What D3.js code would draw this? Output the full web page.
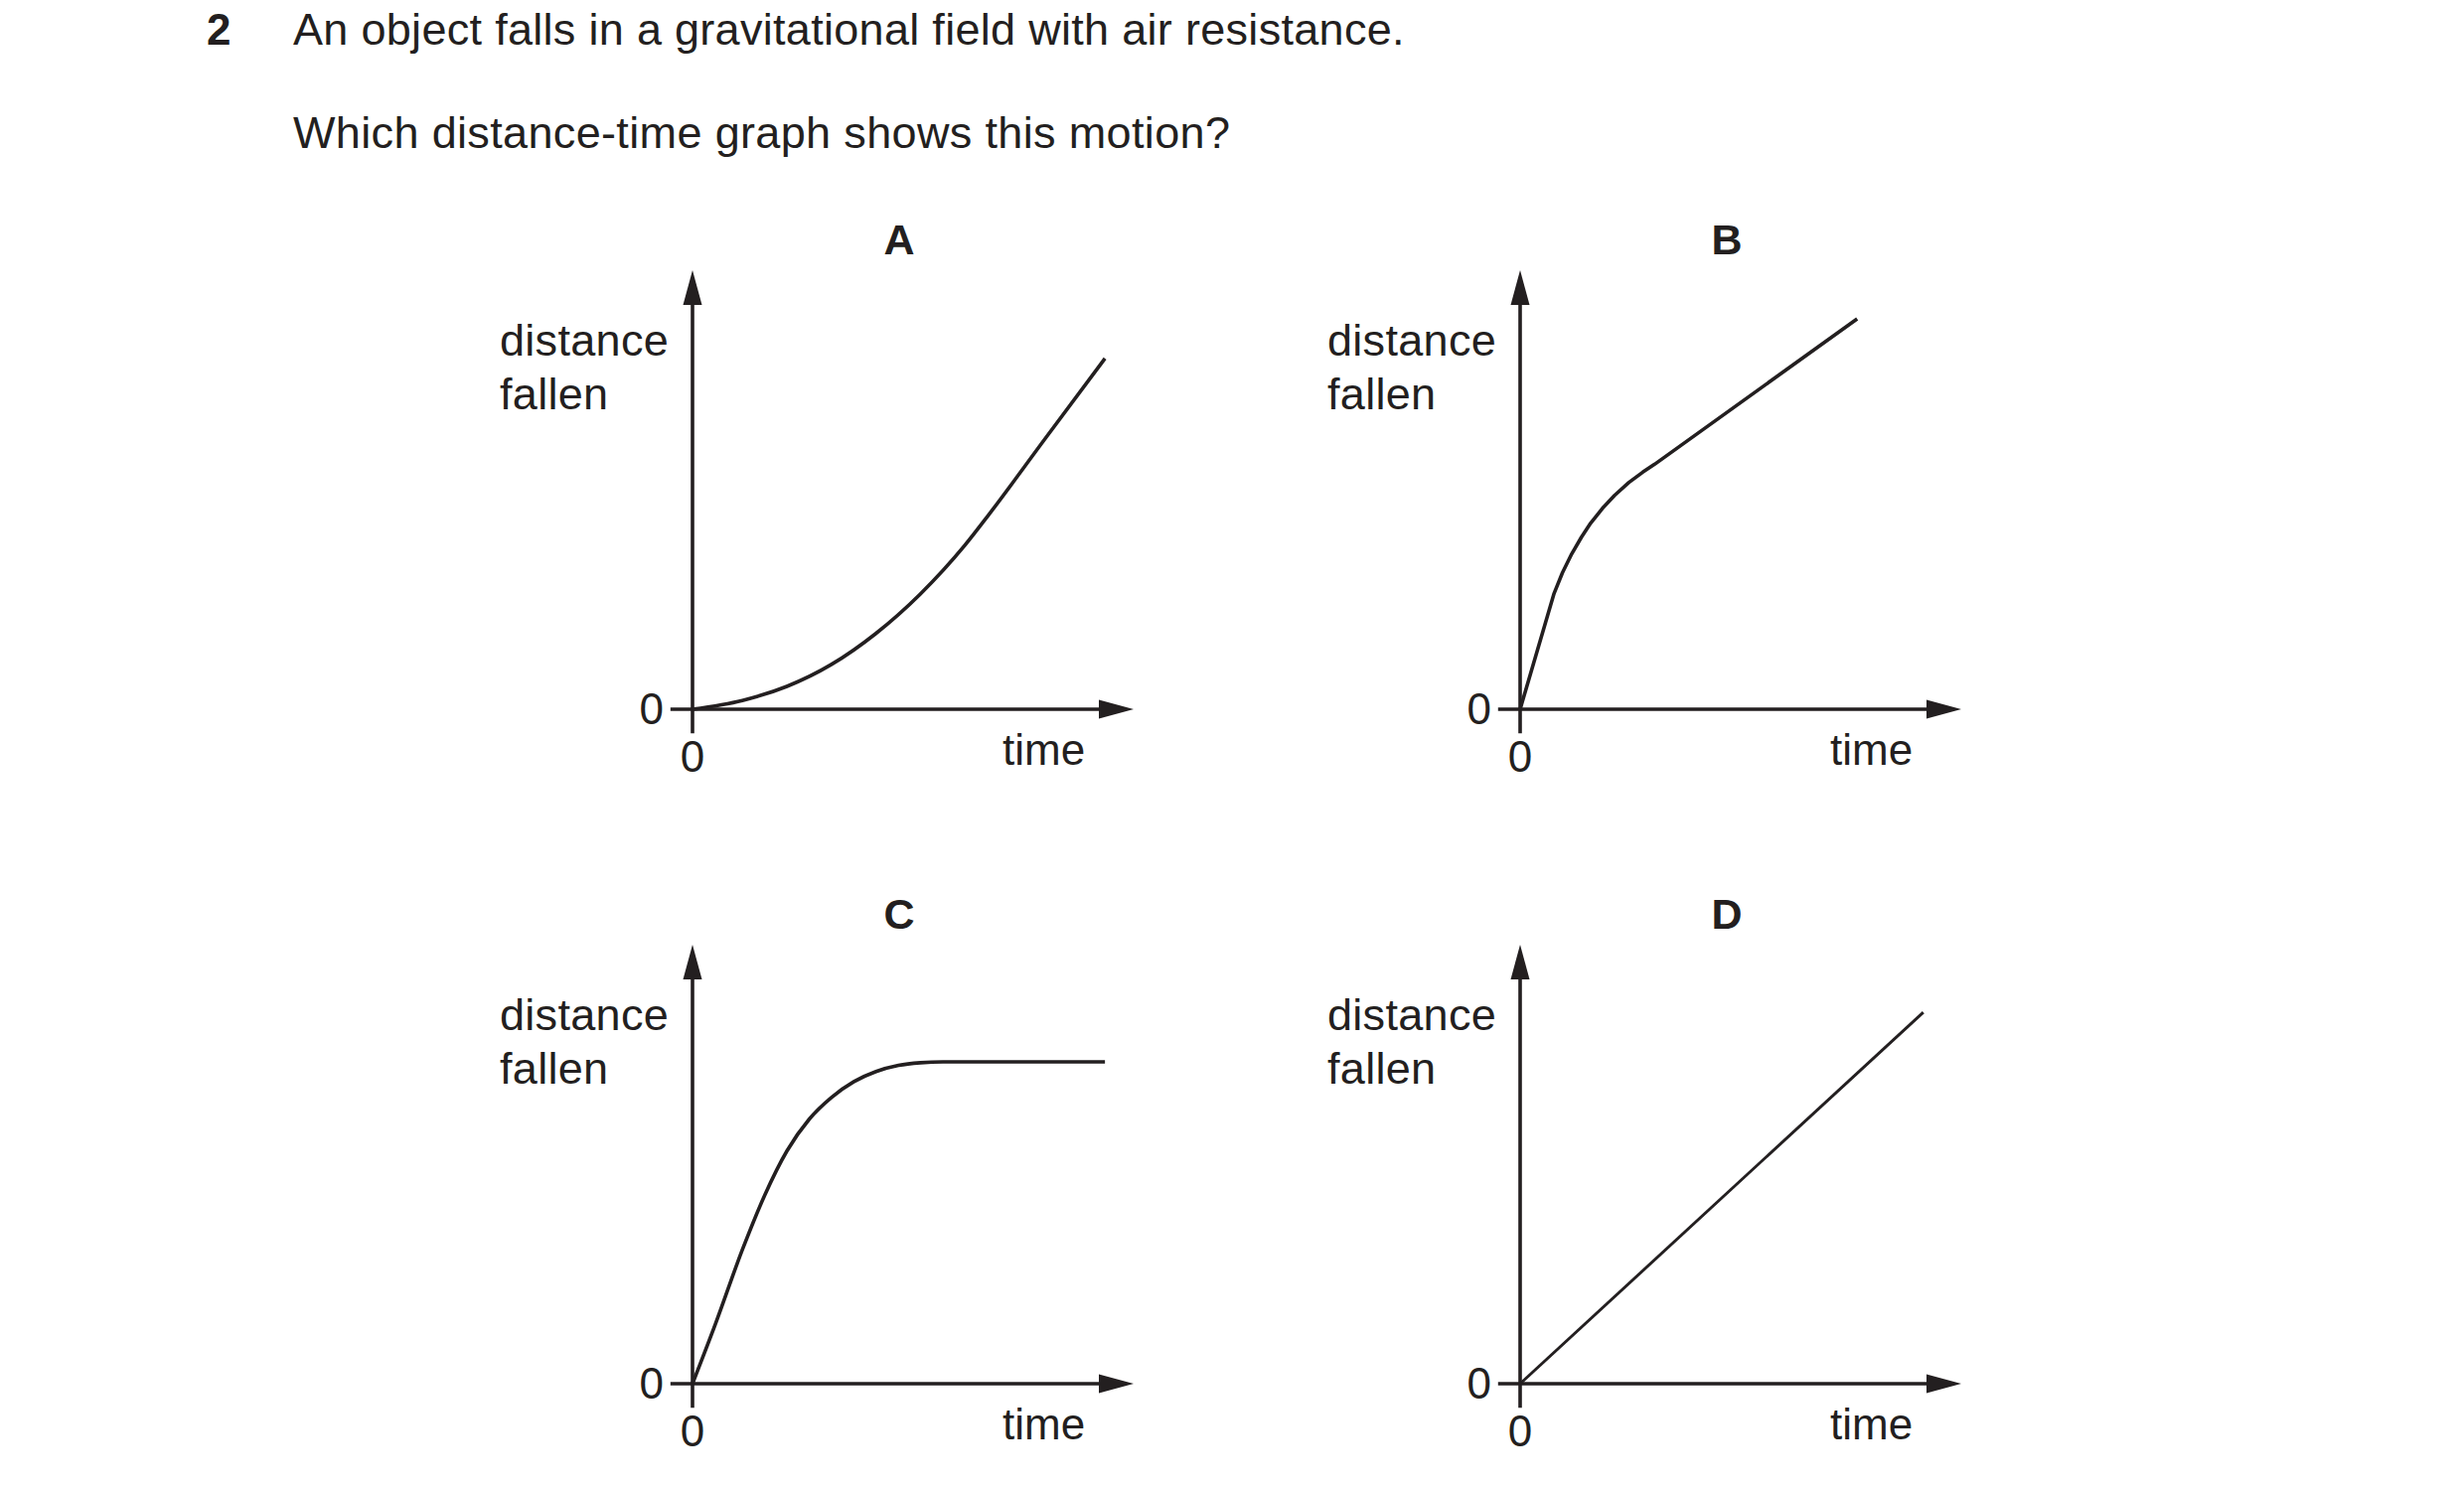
<!DOCTYPE html>
<html>
<head>
<meta charset="utf-8">
<script src="https://cdn.jsdelivr.net/npm/d3@7"></script>
<style>
  html, body { margin: 0; padding: 0; background: #ffffff; }
  svg { display: block; }
  text { font-family: "Liberation Sans", Arial, Helvetica, sans-serif; fill: #231f20; }
</style>
</head>
<body>
<svg id="chart" width="2480" height="1497"></svg>
<script>
// ---- Text content ----
const questionNumber = "2";
const questionLines = [
  "An object falls in a gravitational field with air resistance.",
  "Which distance-time graph shows this motion?"
];
const panelLabels = ["A", "B", "C", "D"];
const yAxisLabel = ["distance", "fallen"];
const xAxisLabel = "time";
const xTickLabels = ["0"];
const yTickLabels = ["0"];

// ---- Series (time, distance fallen) in arbitrary units 0..10 ----
const seriesA = [
  [0, 0], [1.13, 0.20], [2.14, 0.52], [3.15, 1.02], [4.15, 1.72],
  [5.16, 2.62], [6.17, 3.73], [6.70, 4.41], [8.00, 6.17], [9.35, 7.99]
];
const seriesB = [
  [0, 0], [0.77, 2.64], [0.96, 3.11], [1.17, 3.54], [1.39, 3.92],
  [1.60, 4.24], [1.87, 4.58], [2.14, 4.87], [2.46, 5.16], [2.78, 5.40],
  [3.05, 5.58], [7.64, 8.89]
];
const seriesC = [
  [0, 0], [0.52, 1.36], [1.13, 3.05], [1.64, 4.30], [2.14, 5.30],
  [2.65, 6.03], [3.15, 6.52], [3.66, 6.88], [4.16, 7.11], [4.67, 7.25],
  [5.17, 7.31], [5.68, 7.33], [9.35, 7.33]
];
const seriesD = [
  [0, 0], [9.14, 8.46]
];

// ---- Layout ----
const INK = "#231f20";
const svg = d3.select("#chart");
svg.append("rect").attr("width", 2480).attr("height", 1497).attr("fill", "#ffffff");

// header
svg.append("text").attr("x", 208).attr("y", 45)
  .attr("font-size", 44).attr("font-weight", "bold").text(questionNumber);
svg.append("text").attr("x", 295).attr("y", 45)
  .attr("font-size", 45).attr("letter-spacing", 0.3).text(questionLines[0]);
svg.append("text").attr("x", 295).attr("y", 149)
  .attr("font-size", 45).attr("letter-spacing", 0.35).text(questionLines[1]);

const panels = [
  { label: panelLabels[0], data: seriesA, ox: 697, oy: 714, curve: d3.curveMonotoneX, sw: 3.6 },
  { label: panelLabels[1], data: seriesB, ox: 1530, oy: 714, curve: d3.curveLinear, sw: 3.6 },
  { label: panelLabels[2], data: seriesC, ox: 697, oy: 1393, curve: d3.curveMonotoneX, sw: 3.6 },
  { label: panelLabels[3], data: seriesD, ox: 1530, oy: 1393, curve: d3.curveLinear, sw: 2.9 }
];

const W = 444, H = 442;
const ARROW_LEN = 35, ARROW_HALF = 9.5;

panels.forEach(p => {
  const x = d3.scaleLinear().domain([0, 10]).range([p.ox, p.ox + W]);
  const y = d3.scaleLinear().domain([0, 10]).range([p.oy, p.oy - H]);
  const g = svg.append("g");

  // axes lines
  g.append("line")
    .attr("x1", x(-0.5)).attr("x2", x(10) - ARROW_LEN + 2)
    .attr("y1", y(0)).attr("y2", y(0))
    .attr("stroke", INK).attr("stroke-width", 3.6);
  g.append("line")
    .attr("x1", x(0)).attr("x2", x(0))
    .attr("y1", y(-0.55)).attr("y2", y(10) + ARROW_LEN - 2)
    .attr("stroke", INK).attr("stroke-width", 3.6);

  // arrow heads
  g.append("path")
    .attr("d", `M${x(10)},${y(0)} L${x(10) - ARROW_LEN},${y(0) - ARROW_HALF} L${x(10) - ARROW_LEN},${y(0) + ARROW_HALF} Z`)
    .attr("fill", INK);
  g.append("path")
    .attr("d", `M${x(0)},${y(10)} L${x(0) - ARROW_HALF},${y(10) + ARROW_LEN} L${x(0) + ARROW_HALF},${y(10) + ARROW_LEN} Z`)
    .attr("fill", INK);

  // tick labels
  g.append("text").attr("x", x(0) - 29).attr("y", y(0) + 15)
    .attr("font-size", 44).attr("text-anchor", "end").text(yTickLabels[0]);
  g.append("text").attr("x", x(0)).attr("y", y(0) + 63)
    .attr("font-size", 44).attr("text-anchor", "middle").text(xTickLabels[0]);

  // axis labels
  g.append("text").attr("x", x(0) - 194).attr("y", y(0) - 356)
    .attr("font-size", 45).attr("letter-spacing", 0.3).text(yAxisLabel[0]);
  g.append("text").attr("x", x(0) - 194).attr("y", y(0) - 302)
    .attr("font-size", 45).attr("letter-spacing", 0.3).text(yAxisLabel[1]);
  g.append("text").attr("x", x(0) + 312).attr("y", y(0) + 56)
    .attr("font-size", 44).text(xAxisLabel);

  // panel title
  g.append("text").attr("x", x(0) + 208).attr("y", y(0) - 458)
    .attr("font-size", 43).attr("font-weight", "bold")
    .attr("text-anchor", "middle").text(p.label);

  // curve
  const line = d3.line().x(d => x(d[0])).y(d => y(d[1])).curve(p.curve);
  g.append("path").datum(p.data)
    .attr("d", line)
    .attr("fill", "none").attr("stroke", INK)
    .attr("stroke-width", p.sw)
    .attr("stroke-linejoin", "round");
});
</script>
</body>
</html>
